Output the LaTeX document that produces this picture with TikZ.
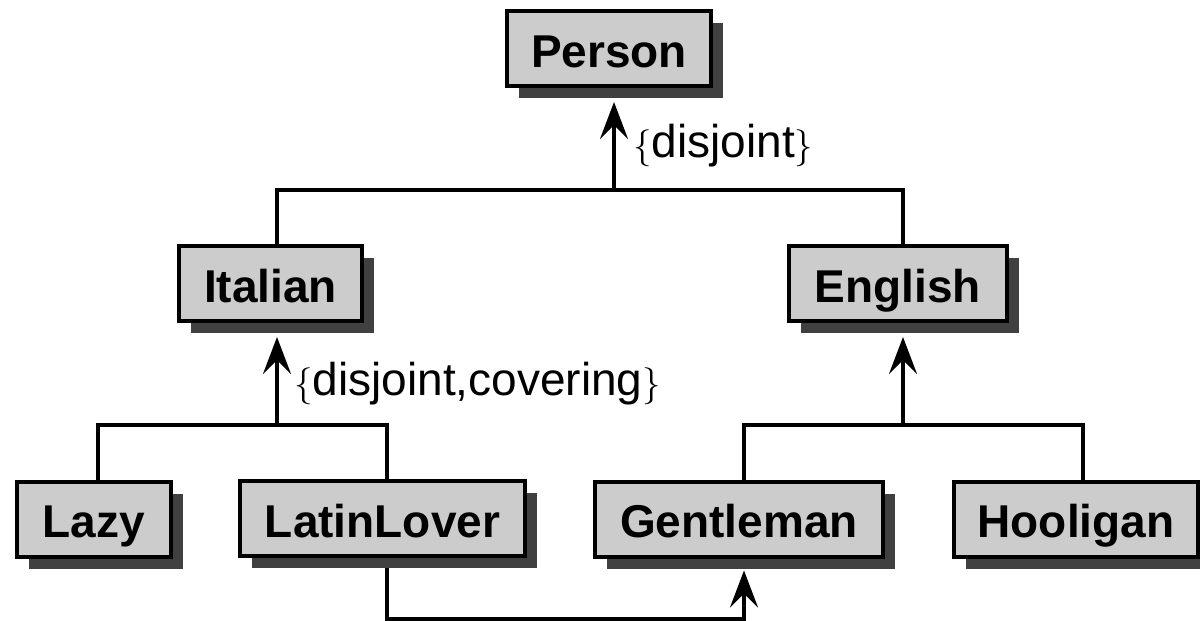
\documentclass[tikz,border=0pt]{standalone}
\usepackage{fontspec}
\setmainfont{Liberation Sans}
\usetikzlibrary{arrows.meta,shadows,backgrounds}
\definecolor{boxfill}{HTML}{CCCCCC}
\definecolor{shadowgray}{HTML}{404040}
\newcommand{\lbr}{\scalebox{3.7}{\fontsize{10}{12}\selectfont$\{$}}
\newcommand{\rbr}{\scalebox{3.7}{\fontsize{10}{12}\selectfont$\}$}}
\tikzset{
  cls/.style={draw=black, line width=4pt, fill=boxfill, rectangle, inner sep=0pt,
    minimum height=75pt, text height=40pt, text depth=3pt,
    font=\fontsize{46}{52}\selectfont\bfseries,
    drop shadow={shadow xshift=12pt, shadow yshift=-12pt, fill=shadowgray, opacity=1}},
  conn/.style={line width=3.5pt, black},
  arr/.style={conn, -{Stealth[length=37pt, width=28pt, inset=14pt]}},
  lbl/.style={anchor=base west, inner sep=0pt, font=\fontsize{46}{52}\selectfont}
}
\begin{document}
\begin{tikzpicture}[x=1pt, y=-1pt]
\useasboundingbox (0,0) rectangle (1200,621);
\node[cls, minimum width=204pt] (Person) at (609,48.5) {Person};
\node[cls, minimum width=183pt] (Italian) at (270.5,283.5) {Italian};
\node[cls, minimum width=218pt] (English) at (898,283.5) {English};
\node[cls, minimum width=154pt] (Lazy) at (94,519) {Lazy};
\node[cls, minimum width=285pt] (LatinLover) at (382.5,518.5) {LatinLover};
\node[cls, minimum width=288pt] (Gentleman) at (739,519) {Gentleman};
\node[cls, minimum width=244pt] (Hooligan) at (1076,519) {Hooligan};
% junctions
\coordinate (j1) at (614,190);
\coordinate (j2) at (277,425);
\coordinate (j3) at (903,425);
\coordinate (b1) at (387,619);
\coordinate (b2) at (744,619);
\coordinate (PersonS) at ([yshift=-14pt]Person.south);
\coordinate (ItalianS) at ([yshift=-14pt]Italian.south);
\coordinate (EnglishS) at ([yshift=-14pt]English.south);
\coordinate (GentS) at ([yshift=-12pt]Gentleman.south);
\begin{scope}[on background layer]
\draw[conn] (Italian.north -| j2) |- (j1) -| (English.north -| j3);
\draw[arr] (j1) -- (j1 |- PersonS);
\draw[conn] (Lazy.north -| 98,0) |- (j2) -| (LatinLover.north -| b1);
\draw[arr] (j2) -- (j2 |- ItalianS);
\draw[conn] (Gentleman.north -| b2) |- (j3) -| (Hooligan.north -| 1083,0);
\draw[arr] (j3) -- (j3 |- EnglishS);
\draw[arr] (LatinLover.south -| b1) -- (b1) -- (b2) -- (b2 |- GentS);
\end{scope}
\node[lbl] (l1) at (633,157) {\lbr disjoint\rbr};
\node[lbl] (l2) at (294,395) {\lbr disjoint,covering\rbr};
\end{tikzpicture}
\end{document}
